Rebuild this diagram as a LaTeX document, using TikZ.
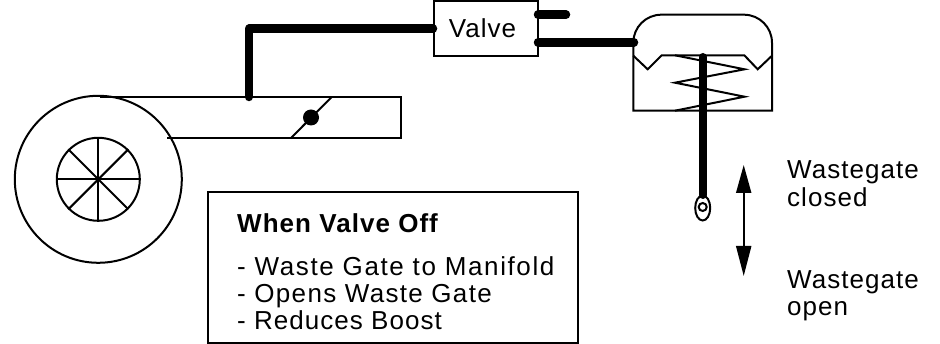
\documentclass[tikz,border=0pt]{standalone}
\usepackage{fontspec}
\setmainfont[LetterSpace=4]{Liberation Sans}
\usetikzlibrary{arrows.meta,shapes.geometric}

\tikzstyle{thin line}=[line width=2pt]
\tikzstyle{pipe}=[line width=8.5pt,line cap=round,line join=round]
\tikzstyle{label}=[anchor=base west,inner sep=0pt,font=\fontsize{26}{27.5}\selectfont]
\tikzstyle{box}=[draw,line width=2pt,inner sep=0pt]
\tikzstyle{move}=[line width=2pt,{Triangle[length=28pt,width=15pt]}-{Triangle[length=30pt,width=15pt]}]

\begin{document}
\begin{tikzpicture}[x=1pt,y=-1pt]
\useasboundingbox (0,0) rectangle (940,344);

% turbo
\node[box,circle,minimum size=167pt] (housing) at (98.3,179.3) {};
\node[box,circle,minimum size=83pt] (wheel) at (98.3,179.3) {};
\foreach \a in {0,45,...,315}
  \draw[thin line] (wheel.center) -- (wheel.\a);

% duct
\coordinate (ducta) at (100,97);
\coordinate (ductb) at (400.7,97);
\coordinate (ductc) at (400.7,138.3);
\coordinate (ductd) at (167,138.3);
\draw[thin line] (ducta) -- (ductb) -- (ductc) -- (ductd);

% throttle
\node[fill,circle,minimum size=16pt,inner sep=0pt] (throttle) at (311,117.5) {};
\coordinate (flapa) at (290.7,138.3);
\coordinate (flapb) at (331.7,97);
\draw[thin line] (flapa) -- (flapb);

% valve
\node[box,minimum width=104pt,minimum height=55pt,font=\fontsize{26}{27.5}\selectfont] (valve) at (486,28.5) {Valve\kern7pt};

% pipes
\coordinate (tap) at (249,97);
\coordinate (bend) at (249,28.7);
\coordinate (vent) at (566,14.7);
\coordinate (ventb) at (538,14.7);
\coordinate (portb) at (538,42.3);
\coordinate (port) at (634,42.3);
\draw[pipe] (tap) -- (bend) -- (valve.west |- bend);
\draw[pipe] (ventb) -- (vent);
\draw[pipe] (portb) -- (port);

% actuator
\coordinate (capl) at (633.3,14.7);
\coordinate (capr) at (772,14.7);
\coordinate (bodyl) at (633.3,110.7);
\coordinate (bodyr) at (772,110.7);
\draw[thin line] (bodyl) [rounded corners=28pt] -- (capl) -- (capr) [sharp corners] -- (bodyr) -- cycle;
\draw[thin line] (633.3,55.7) -- (647.7,69.3) -- (661.7,55.3) -- (744.3,55.3) -- (757.7,69.3) -- (772,55.7);
\draw[thin line] (675,55.3) -- (744.5,69.3) -- (675,82.7) -- (744.5,96.7) -- (675,110.7);

% rod
\node[draw,ellipse,line width=2pt,minimum width=15pt,minimum height=25pt,inner sep=0pt] (eye) at (702.7,208) {};
\node[draw,circle,line width=2pt,minimum size=8pt,inner sep=0pt] (hole) at (702.7,207) {};
\coordinate (rodtop) at (702.7,57);
\coordinate (rodend) at (702.7,195);
\draw[line width=8pt,line cap=round] (rodtop) -- (rodend);

% travel
\coordinate (up) at (743.7,165);
\coordinate (down) at (743.7,276);
\draw[move] (up) -- (down);
\node[label,align=left] (closed) at (787,206.5) {Wastegate\\closed};
\node[label,align=left] (open) at (787,316) {Wastegate\\open};

% note
\node[box,minimum width=370.6pt,minimum height=150.7pt] (note) at (393,267.7) {};
\node[label,font=\fontsize{26}{27.5}\selectfont\bfseries] (title) at (237,233) {When Valve Off};
\node[label] (line1) at (237,275.7) {\addfontfeature{LetterSpace=6.2}- Waste Gate to Manifold};
\node[label] (line2) at (237,302.7) {\addfontfeature{LetterSpace=5.1}- Opens Waste Gate};
\node[label] (line3) at (237,330) {- Reduces Boost};

\end{tikzpicture}
\end{document}
